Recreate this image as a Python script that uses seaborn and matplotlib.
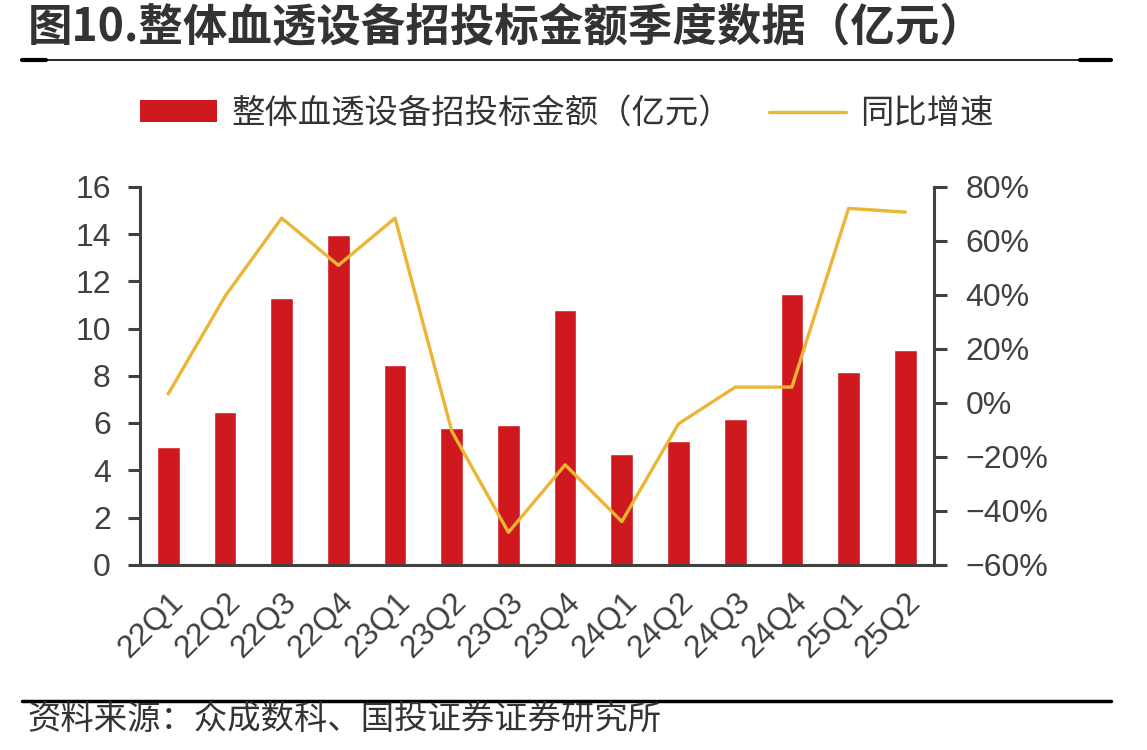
import numpy as np
import pandas as pd
import matplotlib.pyplot as plt
import matplotlib.ticker as mticker
from matplotlib.lines import Line2D
from matplotlib.patches import Patch
import seaborn as sns

# === 数据 ===
quarters = ['22Q1', '22Q2', '22Q3', '22Q4', '23Q1', '23Q2', '23Q3',
            '23Q4', '24Q1', '24Q2', '24Q3', '24Q4', '25Q1', '25Q2']
amount = [5.0, 6.45, 11.3, 13.95, 8.45, 5.8, 5.9,
          10.8, 4.7, 5.22, 6.16, 11.45, 8.15, 9.07]
yoy = [0.033, 0.394, 0.684, 0.509, 0.684, -0.105, -0.48,
       -0.23, -0.44, -0.078, 0.058, 0.058, 0.72, 0.706]

title = '图10.整体血透设备招投标金额季度数据（亿元）'
bar_label = '整体血透设备招投标金额（亿元）'
line_label = '同比增速'
source = '资料来源：众成数科、国投证券证券研究所'

df = pd.DataFrame({'quarter': quarters, 'amount': amount,
                   'yoy': yoy, 'pos': np.arange(len(quarters))})

# === 样式 ===
sns.set_theme(style='white')
plt.rcParams['font.family'] = ['Liberation Sans', 'Noto Sans CJK SC', 'DejaVu Sans']
plt.rcParams['axes.unicode_minus'] = True

RED = '#D0181F'
GOLD = '#EBB535'
DARK = '#404040'
CJK = ['Noto Sans CJK SC', 'DejaVu Sans']

fig = plt.figure(figsize=(11.47, 7.5), dpi=100)
ax = fig.add_axes([0.122, 0.247, 0.692, 0.504])

# 柱状图：招投标金额
sns.barplot(data=df, x='quarter', y='amount', color=RED, width=0.4,
            saturation=1, ax=ax)
# 折线图：同比增速（右轴）
ax2 = ax.twinx()
sns.lineplot(data=df, x='pos', y='yoy', color=GOLD, linewidth=2.4, ax=ax2)

# 左轴
ax.set_ylim(0, 16)
ax.set_yticks(range(0, 17, 2))
ax.set_xlim(-0.5, len(quarters) - 0.5)
ax.set_xlabel('')
ax.set_ylabel('')
ax.set_xticks(np.arange(len(quarters)))
ax.set_xticklabels(quarters, rotation=45, ha='right', va='top',
                   rotation_mode='anchor')
ax.set_xticks(np.arange(-0.5, len(quarters)), minor=True)
ax.tick_params(axis='x', which='major', length=0, pad=16,
               labelsize=23, colors=DARK)
ax.tick_params(axis='x', which='minor', length=9, width=2.2, color=DARK,
               direction='out')
ax.tick_params(axis='y', length=9, width=2.2, color=DARK, labelsize=23,
               labelcolor=DARK, pad=12, direction='out', left=True)

# 右轴
ax2.set_ylim(-0.6, 0.8)
ax2.set_yticks(np.arange(-0.6, 0.81, 0.2))
ax2.yaxis.set_major_formatter(
    mticker.FuncFormatter(lambda v, p: f'{v * 100:.0f}%'.replace('-', '\u2212')))
ax2.set_ylabel('')
ax2.set_xlabel('')
ax2.tick_params(axis='y', length=9, width=2.2, color=DARK, labelsize=23,
                labelcolor=DARK, pad=14, direction='out', right=True)

for a in (ax, ax2):
    a.spines['top'].set_visible(False)
    a.grid(False)
ax.spines['right'].set_visible(False)
ax2.spines['left'].set_visible(False)
ax2.spines['bottom'].set_visible(False)
for a, side in ((ax, 'left'), (ax, 'bottom'), (ax2, 'right')):
    a.spines[side].set_color(DARK)
    a.spines[side].set_linewidth(2.2)

# 图例
handles = [Patch(facecolor=RED, edgecolor='none', label=bar_label),
           Line2D([0], [0], color=GOLD, linewidth=2.4, label=line_label)]
fig.legend(handles=handles, loc='center left', bbox_to_anchor=(0.122, 0.849),
           ncol=2, frameon=False, handlelength=2.3, handleheight=0.6,
           columnspacing=1.1, handletextpad=0.45, borderpad=0,
           borderaxespad=0, prop={'family': CJK, 'size': 24},
           labelcolor='#333333')

# 标题与来源
fig.text(0.024, 0.962, title, fontsize=32, fontweight='bold',
         color='#333333', family=CJK, va='center', ha='left')
fig.add_artist(Line2D([0.019, 0.969], [0.92, 0.92], color='black',
                      linewidth=1.2, transform=fig.transFigure))
fig.add_artist(Line2D([0.019, 0.04], [0.92, 0.92], color='black',
                      linewidth=3, transform=fig.transFigure))
fig.add_artist(Line2D([0.942, 0.969], [0.92, 0.92], color='black',
                      linewidth=3, transform=fig.transFigure))
fig.add_artist(Line2D([0.019, 0.969], [0.066, 0.066], color='black',
                      linewidth=2.5, transform=fig.transFigure))
fig.text(0.024, 0.041, source, fontsize=24, color='#333333',
         family=CJK, va='center', ha='left', fontweight='light')

fig.savefig('out.png', dpi=100)
plt.close(fig)
